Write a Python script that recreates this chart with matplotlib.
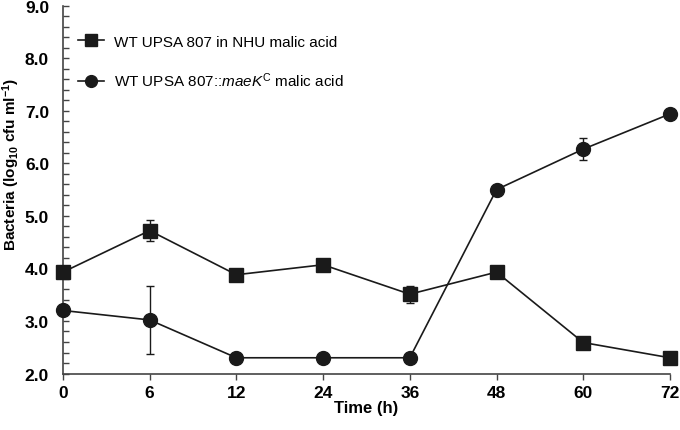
import matplotlib
matplotlib.use("Agg")
import matplotlib.pyplot as plt
import numpy as np
from matplotlib.ticker import MultipleLocator

plt.rcParams['font.family'] = ['Liberation Sans', 'DejaVu Sans']
plt.rcParams['mathtext.fontset'] = 'custom'
plt.rcParams['mathtext.rm'] = 'Liberation Sans'
plt.rcParams['mathtext.it'] = 'Liberation Sans:italic'
plt.rcParams['mathtext.bf'] = 'Liberation Sans:bold'

time_labels = ["0", "6", "12", "24", "36", "48", "60", "72"]
nhu_values = [3.93, 4.72, 3.88, 4.07, 3.51, 3.93, 2.59, 2.30]
nhu_err = [0.0, 0.20, 0.0, 0.0, 0.16, 0.0, 0.0, 0.0]
maek_values = [3.20, 3.02, 2.30, 2.30, 2.30, 5.50, 6.27, 6.94]
maek_err = [0.0, 0.65, 0.0, 0.0, 0.0, 0.0, 0.21, 0.0]

fig = plt.figure(figsize=(6.8, 4.31), dpi=100)
ax = fig.add_axes([0.0926, 0.131, 0.8926, 0.8535])

x = np.arange(len(time_labels))
col = '#1a1a1a'
ax.errorbar(x, nhu_values, yerr=nhu_err, fmt='none', ecolor=col,
            elinewidth=1.0, capsize=3, capthick=1.0, clip_on=False, zorder=2)
ax.errorbar(x, maek_values, yerr=maek_err, fmt='none', ecolor=col,
            elinewidth=1.0, capsize=3, capthick=1.0, clip_on=False, zorder=2)
ax.plot(x, nhu_values, color=col, marker='s', markersize=9.5, linewidth=1.2,
        label='WT UPSA 807 in NHU malic acid', clip_on=False, zorder=3)
ax.plot(x, maek_values, color=col, marker='o', markersize=10, linewidth=1.2,
        label=r'WT UPSA 807::$\mathit{maeK}^{\mathrm{C}}$ malic acid', clip_on=False, zorder=3)

ax.set_xlim(0, len(time_labels) - 1)
ax.set_ylim(2.0, 9.0)
ax.set_xticks(x)
ax.set_xticklabels(time_labels, fontweight='bold', fontsize=12.5)
ax.yaxis.set_minor_locator(MultipleLocator(0.2))
ax.set_yticks(np.arange(2, 9.01, 1.0))
ax.set_yticklabels([f"{v:.1f}" for v in np.arange(2, 9.01, 1.0)], fontweight='bold', fontsize=12.5)

for s in ['top', 'right']:
    ax.spines[s].set_visible(False)
for s in ['left', 'bottom']:
    ax.spines[s].set_color('#444444')
    ax.spines[s].set_linewidth(1.2)

ax.tick_params(axis='y', which='both', direction='in', length=4, width=1.0, color='#444444', pad=10)
ax.tick_params(axis='x', which='major', direction='out', length=4, width=1.0, color='#444444', pad=4)

ax.set_xlabel('Time (h)', fontweight='bold', fontsize=12, labelpad=0)
ax.set_ylabel(r'Bacteria (log$_{\mathbf{10}}$ cfu ml$^{\mathbf{-1}}$)', fontweight='bold', fontsize=11)
ax.yaxis.set_label_coords(-0.067, 0.57)

leg = ax.legend(loc='upper left', bbox_to_anchor=(0.024, 0.921), frameon=False, fontsize=11,
                handlelength=1.7, handletextpad=0.7, labelspacing=1.45, markerscale=0.85,
                borderpad=0, borderaxespad=0)

fig.savefig('out.png', dpi=100)
